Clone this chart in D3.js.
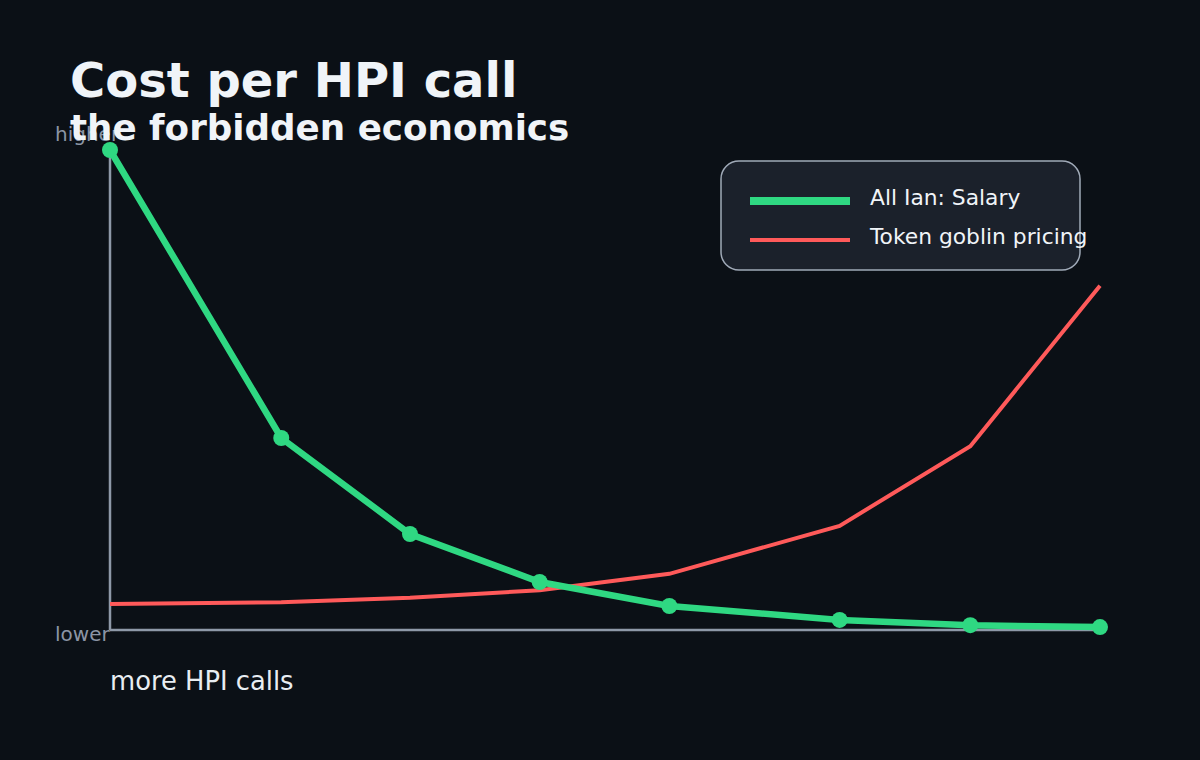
<!DOCTYPE html>
<html><head><meta charset="utf-8">
<script src="https://cdn.jsdelivr.net/npm/d3@7"></script>
<style>body{margin:0;background:#0b1016}</style>
</head><body>
<svg id="c" width="1200" height="760"></svg>
<script>
// relative position along "more HPI calls", and cost (0 = lower, 100 = higher)
const calls = [0, 1.73, 3.03, 4.34, 5.65, 7.37, 8.69, 10];
const salaryCost = [100, 40, 20, 10, 5, 2.1, 1.0, 0.6];
const tokenCost = [5.4, 5.8, 6.7, 8.3, 11.7, 21.7, 38.3, 71.7];
const seriesNames = ['All Ian: Salary', 'Token goblin pricing'];

const svg = d3.select('#c');
const font = 'DejaVu Sans, sans-serif';
svg.append('rect').attr('width', 1200).attr('height', 760).attr('fill', '#0b1016');

const x = d3.scaleLinear().domain([0, 10]).range([110, 1100]);
const y = d3.scaleLinear().domain([0, 100]).range([630, 150]);

// axes
svg.append('line').attr('x1', 110).attr('x2', 110).attr('y1', y(100)).attr('y2', y(0))
  .attr('stroke', '#8e99a8').attr('stroke-width', 2.5);
svg.append('line').attr('x1', 110).attr('x2', x(10)).attr('y1', y(0)).attr('y2', y(0))
  .attr('stroke', '#8e99a8').attr('stroke-width', 2.5);

const line = d3.line().x((d, i) => x(calls[i])).y(d => y(d));

svg.append('path').attr('d', line(tokenCost)).attr('fill', 'none')
  .attr('stroke', '#ff5a5a').attr('stroke-width', 4);
svg.append('path').attr('d', line(salaryCost)).attr('fill', 'none')
  .attr('stroke', '#2fd882').attr('stroke-width', 6.5);
svg.selectAll('circle.pt').data(salaryCost).enter().append('circle')
  .attr('cx', (d, i) => x(calls[i])).attr('cy', d => y(d)).attr('r', 8).attr('fill', '#2fd882');

// labels
svg.append('text').attr('x', 55).attr('y', 141).text('higher')
  .attr('font-family', font).attr('font-size', 20).attr('fill', '#8b95a5');
svg.append('text').attr('x', 55).attr('y', 641).text('lower')
  .attr('font-family', font).attr('font-size', 20).attr('fill', '#8b95a5');
svg.append('text').attr('x', 110).attr('y', 690).text('more HPI calls')
  .attr('font-family', font).attr('font-size', 25.8).attr('fill', '#e8edf2');

svg.append('text').attr('x', 70).attr('y', 97).text('Cost per HPI call')
  .attr('font-family', font).attr('font-size', 48).attr('font-weight', 'bold').attr('fill', '#f0f4f8');
svg.append('text').attr('x', 70).attr('y', 140).text('the forbidden economics')
  .attr('font-family', font).attr('font-size', 35.7).attr('font-weight', 'bold').attr('fill', '#f0f4f8');

// legend
const lg = svg.append('g');
lg.append('rect').attr('x', 721).attr('y', 161).attr('width', 359).attr('height', 109).attr('rx', 18)
  .attr('fill', '#1b212b').attr('stroke', '#a0aab8').attr('stroke-width', 1.5);
const legendColors = ['#2fd882', '#ff5a5a'];
const legendWidths = [8, 4];
seriesNames.forEach((n, i) => {
  const ly = 201 + i * 39;
  lg.append('line').attr('x1', 750).attr('x2', 850).attr('y1', ly).attr('y2', ly)
    .attr('stroke', legendColors[i]).attr('stroke-width', legendWidths[i]);
  lg.append('text').attr('x', 870).attr('y', ly + 4).text(n)
    .attr('font-family', font).attr('font-size', 21.8).attr('fill', '#f0f4f8');
});
</script>
</body></html>
